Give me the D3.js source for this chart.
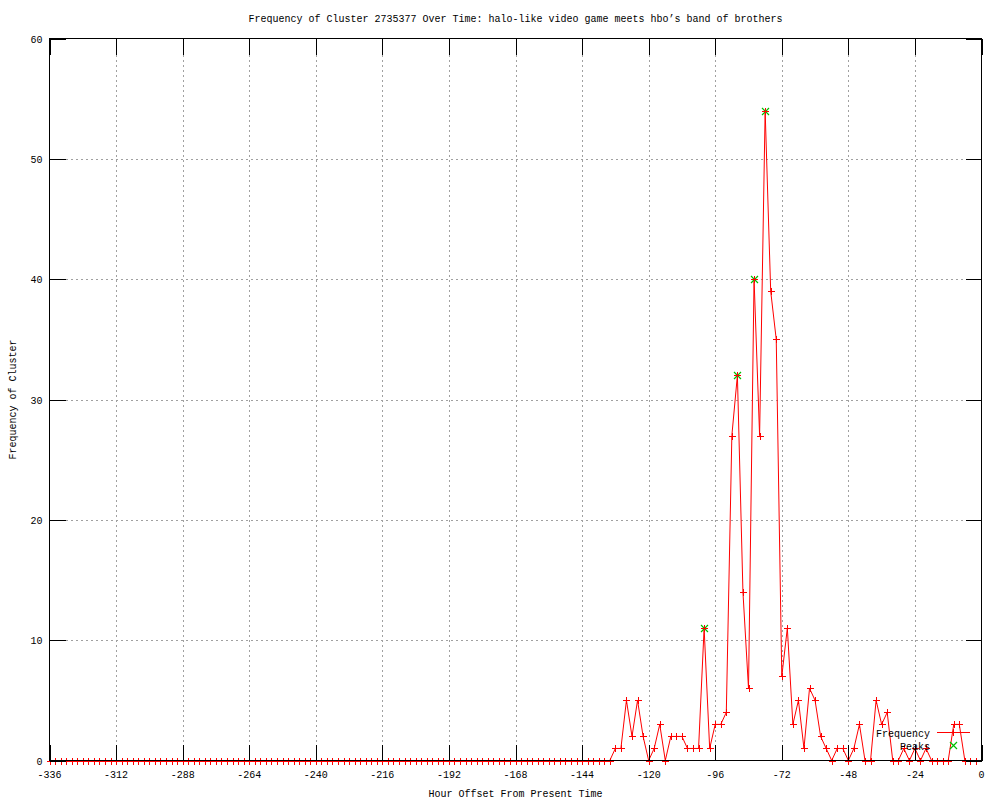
<!DOCTYPE html>
<html>
<head>
<meta charset="utf-8">
<script src="https://cdn.jsdelivr.net/npm/d3@7"></script>
<style>
  body { margin: 0; background: #fff; }
  text { font-family: "Liberation Mono", "DejaVu Sans Mono", monospace; font-size: 10px; fill: #000; }
  path, line, rect { shape-rendering: crispEdges; }
</style>
</head>
<body>
<script>
// hour offsets, one bin every 2 hours over 14 days
const hours = d3.range(-336, 0, 2);

const frequency = [
  0,0,0,0,0,0,0,0,0,0,0,0,0,0,0,0,0,0,0,0,
  0,0,0,0,0,0,0,0,0,0,0,0,0,0,0,0,0,0,0,0,
  0,0,0,0,0,0,0,0,0,0,0,0,0,0,0,0,0,0,0,0,
  0,0,0,0,0,0,0,0,0,0,0,0,0,0,0,0,0,0,0,0,
  0,0,0,0,0,0,0,0,0,0,0,0,0,0,0,0,0,0,0,0,
  0,0,
  1,1,5,2,5,2,0,1,3,0,2,2,2,1,1,1,11,1,3,3,4,
  27,32,14,6,40,27,54,39,35,7,11,3,5,1,6,5,2,1,0,1,1,0,1,3,
  0,0,5,3,4,0,0,1,0,1,0,1,0,0,0,0,3,3,0,0,0
];

const peakHours = [-100, -88, -82, -78];
const peakValues = [11, 32, 40, 54];

const xTicks = [-336, -312, -288, -264, -240, -216, -192, -168, -144, -120, -96, -72, -48, -24, 0];
const yTicks = [0, 10, 20, 30, 40, 50, 60];

const title = "Frequency of Cluster 2735377 Over Time: halo-like video game meets hbo\u2019s band of brothers";

const margin = { top: 38.5, left: 49.5, right: 18.5, bottom: 39.5 };
const W = 1000, H = 800;
const x0 = margin.left, x1 = W - margin.right, y0 = H - margin.bottom, y1 = margin.top;
const tick = 16;

const x = d3.scaleLinear().domain([-336, 0]).range([x0, x1]);
const y = d3.scaleLinear().domain([0, 60]).range([y0, y1]);

const svg = d3.select("body").append("svg")
  .attr("width", W)
  .attr("height", H);

// grid
const grid = svg.append("g")
  .attr("stroke", "#a0a0a0")
  .attr("stroke-dasharray", "2,3")
  .attr("stroke-width", 1);
grid.selectAll(".gx")
  .data(xTicks.filter(d => d > -336 && d < 0))
  .enter().append("line")
  .attr("x1", d => Math.round(x(d)) + 0.5).attr("x2", d => Math.round(x(d)) + 0.5)
  .attr("y1", y1 + tick).attr("y2", y0 - tick);
grid.selectAll(".gy")
  .data(yTicks.filter(d => d > 0 && d < 60))
  .enter().append("line")
  .attr("y1", d => Math.round(y(d)) + 0.5).attr("y2", d => Math.round(y(d)) + 0.5)
  .attr("x1", x0 + tick).attr("x2", x1 - tick);

// data line + points
const line = d3.line()
  .x((d, i) => x(hours[i]))
  .y(d => y(d));

svg.append("path")
  .datum(frequency)
  .attr("fill", "none")
  .attr("stroke", "#ff0000")
  .attr("stroke-width", 1)
  .style("shape-rendering", "auto")
  .attr("d", line);

const plus = (cx, cy, s) => `M${cx - s},${cy}H${cx + s}M${cx},${cy - s}V${cy + s}`;
const cross = (cx, cy, s) => `M${cx - s},${cy - s}L${cx + s},${cy + s}M${cx - s},${cy + s}L${cx + s},${cy - s}`;

svg.append("g")
  .selectAll("path")
  .data(peakValues)
  .enter().append("path")
  .attr("stroke", "#00c000")
  .attr("stroke-width", 1.2)
  .style("shape-rendering", "auto")
  .attr("d", (d, i) => cross(Math.round(x(peakHours[i])) + 0.5, Math.round(y(d)) + 0.5, 3.5));

svg.append("g")
  .selectAll("path")
  .data(frequency)
  .enter().append("path")
  .attr("stroke", "#ff0000")
  .attr("stroke-width", 1)
  .attr("d", (d, i) => plus(Math.round(x(hours[i])) + 0.5, Math.round(y(d)) + 0.5, 3.5));

// ticks (inward, mirrored)
const ticks = svg.append("g").attr("stroke", "#000").attr("stroke-width", 1);
xTicks.forEach(d => {
  const px = Math.round(x(d)) + 0.5;
  ticks.append("line").attr("x1", px).attr("x2", px).attr("y1", y0).attr("y2", y0 - tick);
  ticks.append("line").attr("x1", px).attr("x2", px).attr("y1", y1).attr("y2", y1 + tick);
});
yTicks.forEach(d => {
  const py = Math.round(y(d)) + 0.5;
  ticks.append("line").attr("y1", py).attr("y2", py).attr("x1", x0).attr("x2", x0 + tick);
  ticks.append("line").attr("y1", py).attr("y2", py).attr("x1", x1).attr("x2", x1 - tick);
});

// border
svg.append("rect")
  .attr("x", x0).attr("y", y1)
  .attr("width", x1 - x0).attr("height", y0 - y1)
  .attr("fill", "none")
  .attr("stroke", "#000")
  .attr("stroke-width", 1);

// tick labels
svg.append("g").selectAll("text")
  .data(xTicks)
  .enter().append("text")
  .attr("x", d => x(d))
  .attr("y", y0 + 17)
  .attr("text-anchor", "middle")
  .text(d => d);

svg.append("g").selectAll("text")
  .data(yTicks)
  .enter().append("text")
  .attr("x", x0 - 7)
  .attr("y", d => y(d) + 4)
  .attr("text-anchor", "end")
  .text(d => d);

// titles
svg.append("text")
  .attr("x", (x0 + x1) / 2)
  .attr("y", 22)
  .attr("text-anchor", "middle")
  .text(title);

svg.append("text")
  .attr("x", (x0 + x1) / 2)
  .attr("y", 797)
  .attr("text-anchor", "middle")
  .text("Hour Offset From Present Time");

svg.append("text")
  .attr("transform", `translate(16,${(y0 + y1) / 2}) rotate(-90)`)
  .attr("text-anchor", "middle")
  .text("Frequency of Cluster");

// legend
const lx = 930, lkx = 937, lkw = 33;
svg.append("text").attr("x", lx).attr("y", 737).attr("text-anchor", "end").text("Frequency");
svg.append("line")
  .attr("x1", lkx).attr("x2", lkx + lkw).attr("y1", 732.5).attr("y2", 732.5)
  .attr("stroke", "#ff0000");
svg.append("path").attr("stroke", "#ff0000").attr("d", plus(953.5, 732.5, 3.5));
svg.append("text").attr("x", lx).attr("y", 750).attr("text-anchor", "end").text("Peaks");
svg.append("path").attr("stroke", "#00c000").attr("stroke-width", 1.2).style("shape-rendering", "auto").attr("d", cross(953.5, 745.5, 3.5));
</script>
</body>
</html>
